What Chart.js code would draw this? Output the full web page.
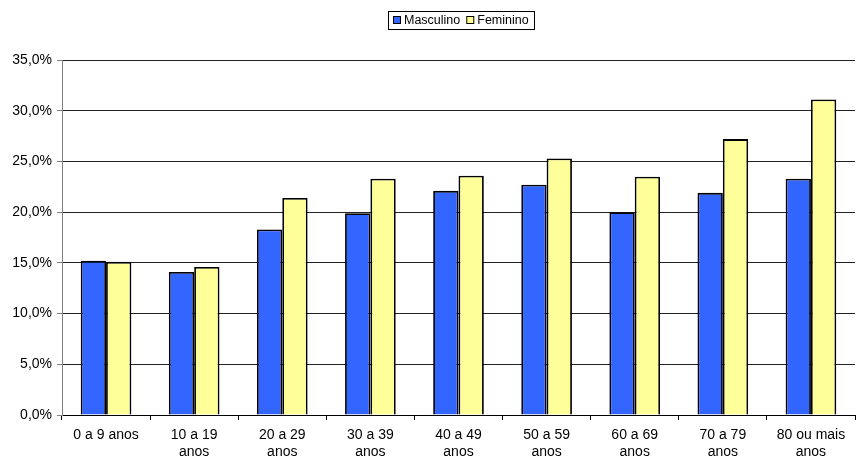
<!DOCTYPE html>
<html>
<head>
<meta charset="utf-8">
<script src="https://cdn.jsdelivr.net/npm/chart.js@4/dist/chart.umd.min.js"></script>
<style>
  html,body{margin:0;padding:0;background:#fff;}
  #wrap{width:856px;height:461px;position:relative;}
</style>
</head>
<body>
<div id="wrap"><canvas id="chart"></canvas></div>
<script>
// Faixas etarias (eixo x)
const faixas = [
  ['0 a 9 anos'],
  ['10 a 19','anos'],
  ['20 a 29','anos'],
  ['30 a 39','anos'],
  ['40 a 49','anos'],
  ['50 a 59','anos'],
  ['60 a 69','anos'],
  ['70 a 79','anos'],
  ['80 ou mais','anos']
];

// Percentuais
const masculino = [15.2, 14.1, 18.3, 19.9, 22.1, 22.7, 20.0, 21.9, 23.3];
const feminino  = [15.1, 14.6, 21.4, 23.3, 23.6, 25.3, 23.5, 27.2, 31.1];

const seriesNames = ['Masculino', 'Feminino'];
const seriesColors = ['#3366FF', '#FFFF99'];

const FONT = '"Liberation Sans", Arial, sans-serif';

// legenda com moldura, desenhada a mao
const boxLegend = {
  id:'boxLegend',
  afterDraw(chart){
    const ctx = chart.ctx;
    ctx.save();
    ctx.font = '12.5px ' + FONT;
    ctx.textBaseline = 'middle';
    const sq = 8, gap = 3, sep = 6, pad = 5;
    const widths = seriesNames.map(n=>ctx.measureText(n).width);
    const total = pad + sq + gap + widths[0] + sep + sq + gap + widths[1] + pad;
    const cx = 461;
    const left = Math.round(cx - total/2);
    const top = 11, h = 18, mid = top + h/2;
    ctx.fillStyle = '#fff';
    ctx.fillRect(left, top, total, h);
    ctx.strokeStyle = '#000';
    ctx.lineWidth = 1;
    ctx.strokeRect(left + 0.5, top + 0.5, Math.round(total), h);
    let x = left + pad;
    seriesNames.forEach((n,i)=>{
      ctx.fillStyle = seriesColors[i];
      ctx.fillRect(x, mid - sq/2, sq, sq);
      ctx.strokeRect(x + 0.5, mid - sq/2 + 0.5, sq - 1, sq - 1);
      x += sq + gap;
      ctx.fillStyle = '#000';
      ctx.fillText(n, x, mid + 0.5);
      x += widths[i] + sep;
    });
    ctx.restore();
  }
};

const ctx = document.getElementById('chart').getContext('2d');
new Chart(ctx,{
  type:'bar',
  data:{
    labels: faixas,
    datasets:[
      {label:seriesNames[0], data:masculino, backgroundColor:seriesColors[0], borderColor:'#000', borderWidth:1.8},
      {label:seriesNames[1], data:feminino, backgroundColor:seriesColors[1], borderColor:'#000', borderWidth:1.8}
    ]
  },
  options:{
    responsive:true,
    maintainAspectRatio:false,
    animation:false,
    layout:{padding:{top:60, right:1, left:0, bottom:0}},
    datasets:{bar:{categoryPercentage:0.575, barPercentage:1.0}},
    plugins:{
      legend:{display:false},
      tooltip:{enabled:false}
    },
    scales:{
      x:{
        grid:{display:true, drawOnChartArea:false, drawTicks:true, tickLength:5, color:'#000', offset:true},
        border:{display:true, color:'#000', width:1},
        ticks:{color:'#000', font:{family:FONT, size:14, lineHeight:1.25}, padding:6, maxRotation:0, autoSkip:false},
        afterFit(scale){ scale.height = 46; }
      },
      y:{
        min:0, max:35,
        grid:{color:'#222', lineWidth:1, tickLength:5, tickColor:'#808080'},
        border:{display:true, color:'#808080', width:1},
        ticks:{
          stepSize:5, color:'#000', padding:5,
          font:{family:FONT, size:14},
          callback:v=>v.toFixed(1).replace('.', ',') + '%'
        },
        afterFit(scale){ scale.width = 62; }
      }
    }
  },
  plugins:[boxLegend]
});
</script>
</body>
</html>
